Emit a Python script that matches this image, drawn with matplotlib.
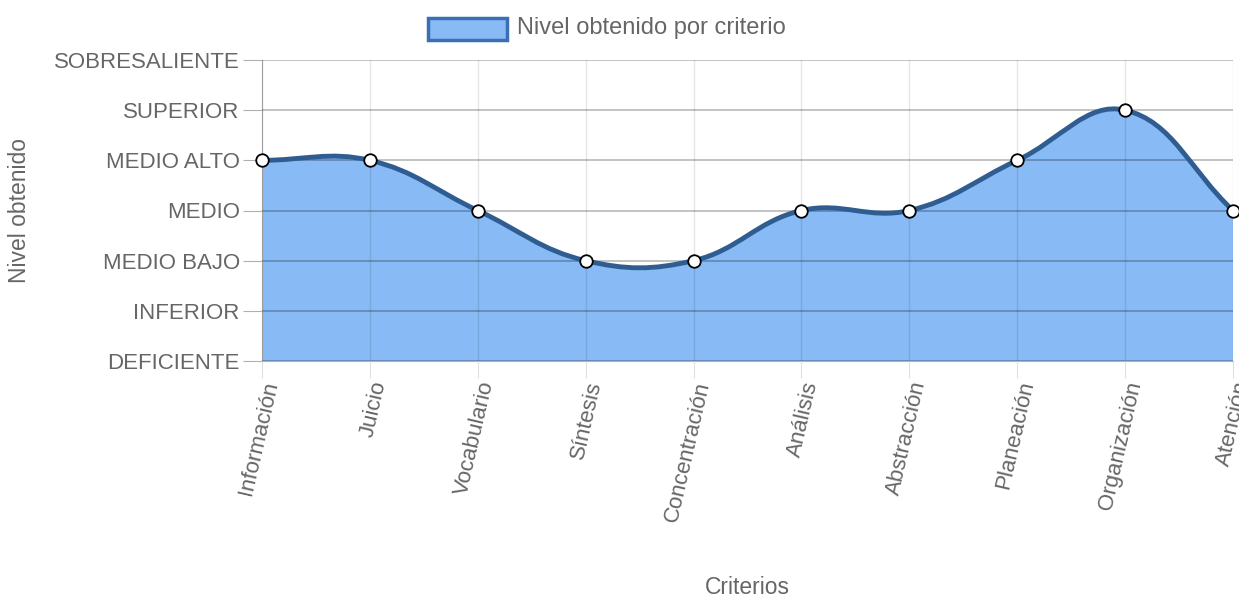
import numpy as np
import matplotlib
matplotlib.use("Agg")
import matplotlib.pyplot as plt
from matplotlib.path import Path
from matplotlib.patches import PathPatch, Rectangle

plt.rcParams['font.family'] = ['Liberation Sans', 'DejaVu Sans']

categories = ["Información", "Juicio", "Vocabulario", "Síntesis", "Concentración",
              "Análisis", "Abstracción", "Planeación", "Organización", "Atención"]
levels = ["DEFICIENTE", "INFERIOR", "MEDIO BAJO", "MEDIO", "MEDIO ALTO", "SUPERIOR", "SOBRESALIENTE"]
values = [4, 4, 3, 2, 2, 3, 3, 4, 5, 3]
series_label = "Nivel obtenido por criterio"

W, H = 1239, 599
fig = plt.figure(figsize=(W / 100, H / 100), dpi=100)
L, R, T, B = 262, 1233, 60, 361
ax = fig.add_axes([L / W, 1 - B / H, (R - L) / W, (B - T) / H])

n = len(categories)
ax.set_xlim(0, n - 1)
ax.set_ylim(0, len(levels) - 1)

xs = np.arange(n, dtype=float)
ys = np.array(values, dtype=float)
# pixel scale for Chart.js-style spline (tension 0.4)
sx = (R - L) / (n - 1)
sy = (B - T) / (len(levels) - 1)
px = xs * sx
py = ys * sy
t = 0.4
prev_cp = []
next_cp = []
for i in range(n):
    p0 = np.array([px[max(i - 1, 0)], py[max(i - 1, 0)]])
    p1 = np.array([px[i], py[i]])
    p2 = np.array([px[min(i + 1, n - 1)], py[min(i + 1, n - 1)]])
    d01 = np.hypot(*(p1 - p0))
    d12 = np.hypot(*(p2 - p1))
    tot = d01 + d12
    s01 = d01 / tot if tot else 0
    s12 = d12 / tot if tot else 0
    fa, fb = t * s01, t * s12
    prev_cp.append(p1 - fa * (p2 - p0))
    next_cp.append(p1 + fb * (p2 - p0))

def todata(p):
    return (p[0] / sx, p[1] / sy)

verts = [(xs[0], ys[0])]
codes = [Path.MOVETO]
for i in range(n - 1):
    verts += [todata(next_cp[i]), todata(prev_cp[i + 1]), (xs[i + 1], ys[i + 1])]
    codes += [Path.CURVE4] * 3
line_path = Path(verts, codes)
fill_verts = verts + [(xs[-1], 0), (xs[0], 0), (xs[0], ys[0])]
fill_codes = codes + [Path.LINETO, Path.LINETO, Path.CLOSEPOLY]
fill_path = Path(fill_verts, fill_codes)

ax.add_patch(PathPatch(fill_path, facecolor='#88baf5', edgecolor='none', zorder=1))
ax.add_patch(PathPatch(line_path, facecolor='none', edgecolor='#2f5d91', lw=3.5,
                       zorder=3, capstyle='round', joinstyle='round', clip_on=False))
ax.plot(xs, ys, 'o', ms=9, mfc='white', mec='black', mew=1.3, zorder=5, clip_on=False)

FS = 16
ax.set_yticks(range(len(levels)))
ax.set_yticklabels(levels)
ax.set_xticks(xs)
ax.set_xticklabels(categories, rotation=77, ha='right', va='top', rotation_mode='anchor')

ax.grid(axis='y', color='black', alpha=0.3, lw=1.1, zorder=2)
ax.grid(axis='x', color='black', alpha=0.1, lw=1, zorder=2)
ax.set_axisbelow(False)
for s in ['top', 'right']:
    ax.spines[s].set_visible(False)
ax.spines['left'].set_color('#b0b0b0')
ax.spines['bottom'].set_color('#b0b0b0')
ax.spines['left'].set_zorder(2)
ax.spines['bottom'].set_zorder(2)
ax.tick_params(axis='y', length=14, color='#b0b0b0', pad=2, labelsize=FS, labelcolor='#666666')
ax.tick_params(axis='x', length=12, color='#e0e0e0', pad=1, labelsize=FS, labelcolor='#666666')

ax.set_ylabel("Nivel obtenido", fontsize=FS + 0.5, color='#666666')
ax.yaxis.set_label_coords(-(L - 31) / (R - L), 0.5)
fig.text((L + R) / 2 / W, 1 - 588 / H, "Criterios", fontsize=FS + 0.5, color='#666666',
         ha='center', va='center')

# legend
fig.patches.append(Rectangle((428 / W, 1 - 40 / H), 79 / W, 22 / H, transform=fig.transFigure,
                             facecolor='#88baf5', edgecolor='#3a6fb5', lw=2.5))
fig.text(517 / W, 1 - 28 / H, series_label, fontsize=FS + 1, color='#666666', ha='left', va='center')

fig.savefig("out.png", dpi=100)
